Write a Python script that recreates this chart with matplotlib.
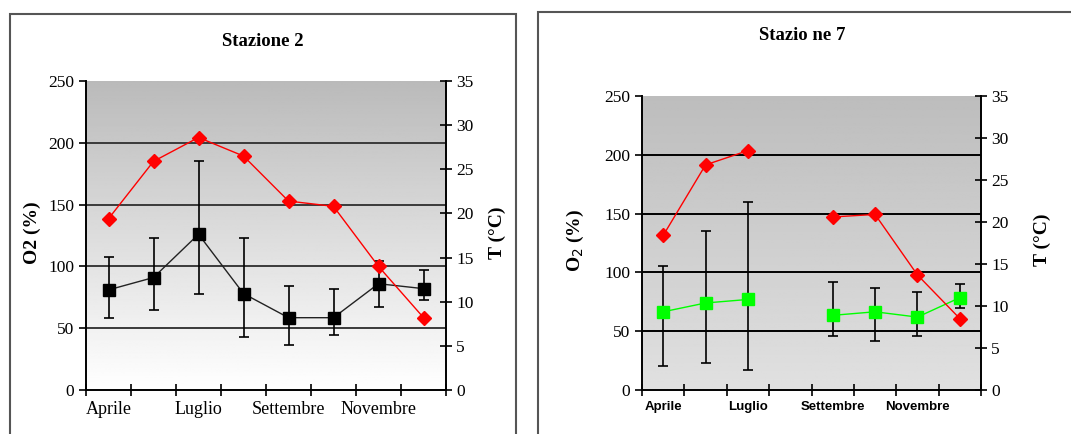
import numpy as np
import matplotlib
matplotlib.use("Agg")
import matplotlib.pyplot as plt
from matplotlib.patches import Rectangle

# categories (months), only every other one labelled
months = ["Aprile", "Maggio", "Luglio", "Agosto", "Settembre", "Ottobre", "Novembre", "Dicembre"]
shown = ["Aprile", "", "Luglio", "", "Settembre", "", "Novembre", ""]

# Stazione 2
o2_st2 = [81, 91, 126, 78, 58.5, 58.5, 86, 82]
o2_st2_hi = [108, 123, 185, 123, 84, 82, 104, 97]
o2_st2_lo = [58.5, 65, 77.5, 42.5, 36.5, 44.5, 67, 72.5]
t_st2 = [19.4, 25.9, 28.6, 26.5, 21.4, 20.8, 14.0, 8.2]

# Stazione 7 (no sample in Agosto)
o2_st7 = [66.5, 74, 77, np.nan, 63.5, 66.5, 62, 78.5]
o2_st7_hi = [105.5, 135, 160, np.nan, 91.5, 87, 83, 90]
o2_st7_lo = [20, 23, 17, np.nan, 46, 42, 46, 70]
t_st7 = [18.4, 26.8, 28.5, np.nan, 20.6, 20.9, 13.7, 8.5]

W, H = 1071, 434
fig = plt.figure(figsize=(W / 100, H / 100), dpi=100)
fig.patch.set_facecolor("white")

serif = "Liberation Serif"
sans = "Liberation Sans"


def px_axes(left, top, right, bottom):
    return fig.add_axes([left / W, (H - bottom) / H, (right - left) / W, (bottom - top) / H])


def panel(ax, title_xy, title, o2, hi, lo, temp, sq_col, grid_col, grad, xfont, ylab, ylab_xy, tlab_xy):
    x = np.arange(len(months))
    o2 = np.asarray(o2, float)
    err = [o2 - np.asarray(lo, float), np.asarray(hi, float) - o2]

    ax.imshow(np.linspace(grad[0], grad[1], 256).reshape(-1, 1), cmap="gray", vmin=0, vmax=1,
              extent=[-0.5, 7.5, 0, 250], aspect="auto", zorder=0, origin="upper")
    for g in [50, 100, 150, 200]:
        ax.axhline(g, color=grid_col, lw=1.4, zorder=1)

    ax.errorbar(x, o2, yerr=err, fmt="none", ecolor="black", elinewidth=1.2,
                capsize=3.5, capthick=1.2, zorder=3)
    ax.plot(x, o2, color=sq_col if sq_col != "black" else "#222222", lw=1, zorder=4)
    ax.plot(x, o2, "s", color=sq_col, ms=9, zorder=5, ls="")

    ax.set_xlim(-0.5, 7.5)
    ax.set_ylim(0, 250)
    ax.set_yticks([0, 50, 100, 150, 200, 250])
    ax.set_xticks(np.arange(-0.5, 8, 1))
    ax.set_xticklabels([])
    ax.set_xticks(x, minor=True)
    ax.set_xticklabels(shown, minor=True, **xfont)
    ax.tick_params(axis="x", which="minor", length=0, pad=8)
    ax.tick_params(axis="x", which="major", direction="inout", length=8, width=1.2)
    ax.tick_params(axis="y", direction="out", length=5, width=1.2, labelsize=12.5)
    for lab in ax.get_yticklabels():
        lab.set_fontfamily(serif)
    for s in ["top", "right"]:
        ax.spines[s].set_visible(False)
    ax.spines["left"].set_linewidth(1.4)
    ax.spines["bottom"].set_linewidth(1.4)

    ax2 = ax.twinx()
    ax2.plot(x, temp, color="red", lw=1, marker="D", ms=7.5, mfc="red", mec="red", zorder=6)
    ax2.set_ylim(0, 35)
    ax2.set_yticks(range(0, 36, 5))
    ax2.tick_params(axis="y", direction="inout", length=8, width=1.2, labelsize=12.5)
    for lab in ax2.get_yticklabels():
        lab.set_fontfamily(serif)
    for s in ["top", "left", "bottom"]:
        ax2.spines[s].set_visible(False)
    ax2.spines["right"].set_linewidth(1.4)

    fig.text(title_xy[0] / W, 1 - title_xy[1] / H, title, ha="center", va="center",
             fontfamily=serif, fontweight="bold", fontsize=13.5)
    fig.text(ylab_xy[0] / W, 1 - ylab_xy[1] / H, ylab, rotation=90, ha="center", va="center",
             fontfamily=serif, fontweight="bold", fontsize=14)
    fig.text(tlab_xy[0] / W, 1 - tlab_xy[1] / H, "T (°C)", rotation=90, ha="center", va="center",
             fontfamily=serif, fontweight="bold", fontsize=14)


# outer frames
fig.patches.append(Rectangle((10 / W, -0.05), 506 / W, 1.05 - 14 / H, transform=fig.transFigure,
                             fill=False, ec="#555555", lw=1.5))
fig.patches.append(Rectangle((538 / W, -0.05), 0.6, 1.05 - 12 / H, transform=fig.transFigure,
                             fill=False, ec="#555555", lw=1.5))

ax_a = px_axes(86, 81, 446, 390)
panel(ax_a, (263, 42), "Stazione 2", o2_st2, o2_st2_hi, o2_st2_lo, t_st2, "black", "#3a3a3a",
      (0.73, 1.0), dict(fontfamily=serif, fontsize=13), "O2 (%)", (32, 233), (497, 233))

ax_b = px_axes(642, 96, 981, 390)
panel(ax_b, (802, 36), "Stazio ne 7", o2_st7, o2_st7_hi, o2_st7_lo, t_st7, "#00ff00", "black",
      (0.74, 0.88), dict(fontfamily=sans, fontweight="bold", fontsize=9.5), "O$_2$ (%)", (575, 240), (1042, 240))

fig.savefig("out.png", dpi=100)
